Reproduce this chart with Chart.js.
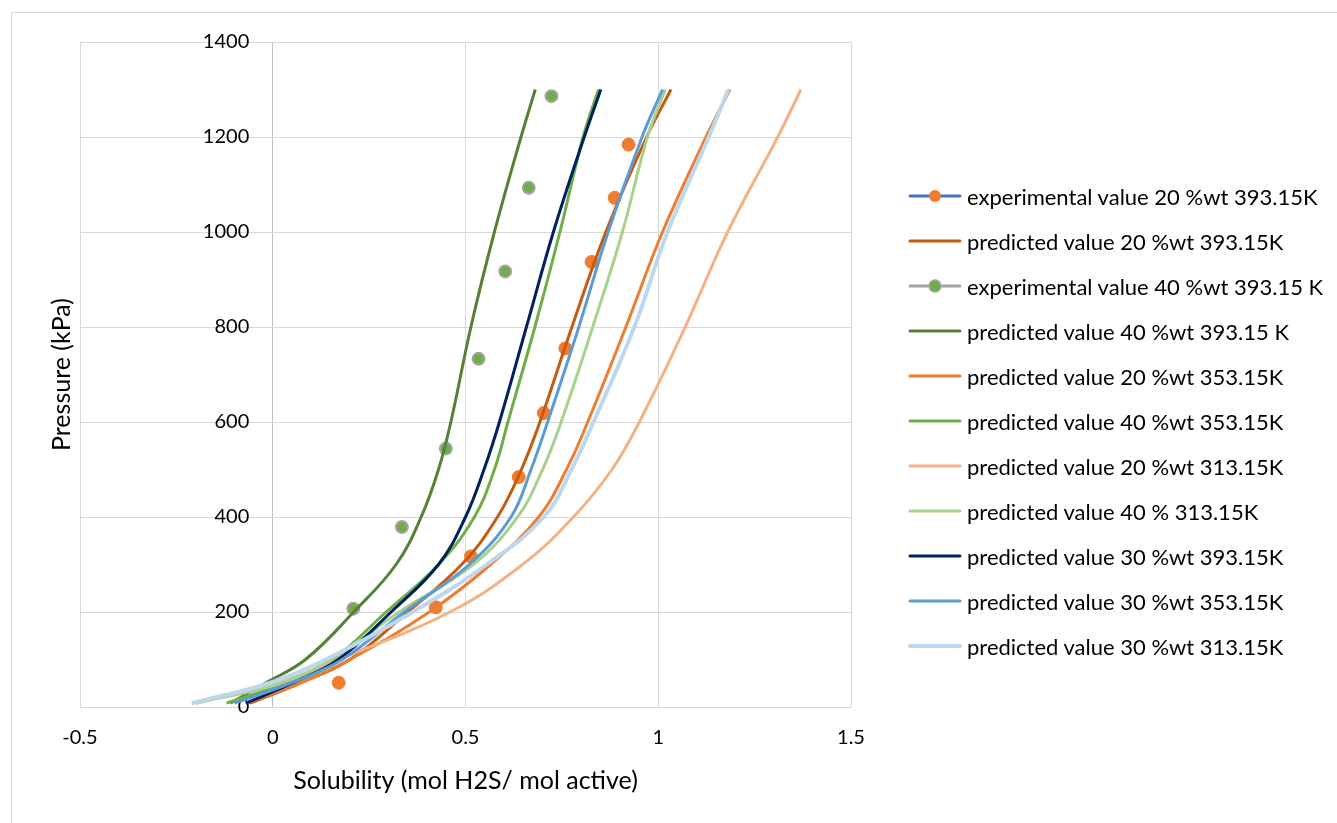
<!DOCTYPE html>
<html>
<head>
<meta charset="utf-8">
<script src="https://cdn.jsdelivr.net/npm/chart.js@4.4.1/dist/chart.umd.min.js"></script>
<style>
  body { margin: 0; background: #fff; overflow: hidden; }
  #wrap { position: relative; width: 1337px; height: 823px; }
  #frame { position: absolute; left: 11px; top: 12px; width: 1340px; height: 820px; border: 1px solid #D9D9D9; }
  #chartBox { position: absolute; left: 0; top: 0; width: 1337px; height: 823px; }
  #legend { position: absolute; left: 0; top: 0; font-family: Lato, sans-serif; font-size: 22px; color: #000; }
  .row { position: absolute; left: 908px; height: 26px; display: flex; align-items: center; white-space: nowrap; }
  .row canvas { margin-right: 5px; }
</style>
</head>
<body>
<div id="wrap">
  <div id="frame"></div>
  <div id="chartBox"><canvas id="chart"></canvas></div>
  <div id="legend"></div>
</div>
<script>
// pressure levels (kPa) the predicted curves are read at
const pressureLevels = [8, 50, 100, 200, 300, 400, 500, 600, 800, 1000, 1200, 1300];

// predicted solubility (mol H2S / mol active) at each pressure level
const pred20_393 = [-0.06, 0.07, 0.20, 0.35, 0.49, 0.583, 0.645, 0.693, 0.776, 0.864, 0.970, 1.033];
const pred40_393 = [-0.11, -0.02, 0.085, 0.21, 0.32, 0.385, 0.43, 0.462, 0.514, 0.575, 0.644, 0.681];
const pred20_353 = [-0.07, 0.07, 0.20, 0.406, 0.565, 0.69, 0.762, 0.817, 0.916, 1.011, 1.124, 1.186];
const pred40_353 = [-0.12, 0.03, 0.155, 0.294, 0.43, 0.523, 0.575, 0.61, 0.68, 0.745, 0.805, 0.845];
const pred20_313 = [-0.20, 0.01, 0.17, 0.46, 0.648, 0.78, 0.88, 0.951, 1.07, 1.18, 1.31, 1.37];
const pred40_313 = [-0.20, 0.02, 0.15, 0.328, 0.52, 0.635, 0.70, 0.748, 0.830, 0.907, 0.972, 1.018];
const pred30_393 = [-0.07, 0.05, 0.17, 0.307, 0.43, 0.50, 0.548, 0.588, 0.658, 0.728, 0.808, 0.851];
const pred30_353 = [-0.10, 0.045, 0.18, 0.341, 0.51, 0.618, 0.67, 0.713, 0.794, 0.870, 0.958, 1.011];
const pred30_313 = [-0.21, -0.01, 0.138, 0.363, 0.555, 0.703, 0.775, 0.832, 0.938, 1.024, 1.131, 1.182];

// experimental points
const exp20X = [0.171, 0.423, 0.514, 0.638, 0.703, 0.759, 0.827, 0.887, 0.923];
const exp20P = [51, 210, 317, 484, 619, 755, 937, 1072, 1184];
const exp40X = [0.209, 0.335, 0.449, 0.534, 0.603, 0.664, 0.723];
const exp40P = [207, 379, 544, 733, 917, 1093, 1286];

const seriesNames = [
  'experimental value 20 %wt 393.15K',
  'predicted value 20 %wt 393.15K',
  'experimental value 40 %wt 393.15 K',
  'predicted value 40 %wt 393.15 K',
  'predicted value 20 %wt 353.15K',
  'predicted value 40 %wt 353.15K',
  'predicted value 20 %wt 313.15K',
  'predicted value 40 % 313.15K',
  'predicted value 30 %wt 393.15K',
  'predicted value 30 %wt 353.15K',
  'predicted value 30 %wt 313.15K'
];

const xTicks = [-0.5, 0, 0.5, 1, 1.5];
const yTicks = [0, 200, 400, 600, 800, 1000, 1200, 1400];

function curve(xs) {
  return xs.map((x, i) => ({ x: x, y: pressureLevels[i] }));
}
function points(xs, ps) {
  return xs.map((x, i) => ({ x: x, y: ps[i] }));
}

const TICK_FONT = { family: 'Lato', size: 20 };
const TITLE_FONT = { family: 'Lato', size: 25 };

function lineSet(label, data, color, width) {
  return {
    label: label, data: data, showLine: true, borderColor: color, backgroundColor: color,
    borderWidth: width || 3, pointRadius: 0, tension: 0.4, fill: false
  };
}

const datasets = [
  { label: seriesNames[0], data: points(exp20X, exp20P), showLine: false,
    pointRadius: 6.5, pointBackgroundColor: '#ED7D31', pointBorderColor: '#ED7D31', pointBorderWidth: 1,
    legendLine: '#4472C4' },
  lineSet(seriesNames[1], curve(pred20_393), '#C55A11'),
  { label: seriesNames[2], data: points(exp40X, exp40P), showLine: false,
    pointRadius: 6, pointBackgroundColor: '#70AD47', pointBorderColor: '#A5A5A5', pointBorderWidth: 2,
    legendLine: '#A5A5A5' },
  lineSet(seriesNames[3], curve(pred40_393), '#548235'),
  lineSet(seriesNames[4], curve(pred20_353), '#ED7D31'),
  lineSet(seriesNames[5], curve(pred40_353), '#70AD47'),
  lineSet(seriesNames[6], curve(pred20_313), '#F4B183'),
  lineSet(seriesNames[7], curve(pred40_313), '#A9D18E'),
  lineSet(seriesNames[8], curve(pred30_393), '#002060'),
  lineSet(seriesNames[9], curve(pred30_353), '#5B9BD5'),
  lineSet(seriesNames[10], curve(pred30_313), '#BDD7EE', 4)
];
// later series sit on top, like the original
datasets.forEach((d, i) => { d.order = datasets.length - 1 - i; });

const chart = new Chart(document.getElementById('chart'), {
  type: 'scatter',
  data: { datasets: datasets },
  options: {
    responsive: true,
    maintainAspectRatio: false,
    animation: false,
    events: [],
    layout: { padding: { left: 0, top: 42, right: 486, bottom: 0 } },
    plugins: { legend: { display: false }, tooltip: { enabled: false } },
    scales: {
      x: {
        type: 'linear', min: -0.5, max: 1.5,
        afterBuildTicks: s => { s.ticks = xTicks.map(v => ({ value: v })); },
        afterFit: s => { s.height = 116; },
        ticks: { font: TICK_FONT, color: '#000', padding: 19, callback: v => String(v) },
        grid: { color: ctx => ctx.tick && ctx.tick.value === 0 ? '#BFBFBF' : '#D9D9D9', drawTicks: false },
        border: { display: false },
        title: { display: true, text: 'Solubility (mol H2S/ mol active)', font: TITLE_FONT, color: '#000', padding: { bottom: 27 } }
      },
      y: {
        type: 'linear', min: 0, max: 1400,
        afterBuildTicks: s => { s.ticks = yTicks.map(v => ({ value: v })); },
        afterFit: s => { s.width = 80; },
        ticks: { display: false },
        grid: { color: '#D9D9D9', drawTicks: false },
        border: { display: false },
        title: { display: true, text: 'Pressure (kPa)', font: TITLE_FONT, color: '#000', padding: { top: 47 } }
      },
      // value labels that sit beside the vertical axis line at x = 0
      y2: {
        type: 'linear', min: 0, max: 1400, axis: 'y',
        position: { x: -0.061 },
        afterBuildTicks: s => { s.ticks = yTicks.map(v => ({ value: v })); },
        ticks: { font: TICK_FONT, color: '#000', padding: 0, callback: v => String(v) },
        grid: { display: false, drawTicks: false },
        border: { display: false }
      }
    }
  }
});

// legend rows, built from the datasets
const legend = document.getElementById('legend');
datasets.forEach((d, i) => {
  const row = document.createElement('div');
  row.className = 'row';
  row.style.top = (196 + 45 * i - 13) + 'px';
  const c = document.createElement('canvas');
  c.width = 54; c.height = 16;
  const g = c.getContext('2d');
  g.strokeStyle = d.legendLine || d.borderColor;
  g.lineWidth = d.borderWidth || 3;
  g.lineCap = 'round';
  g.beginPath(); g.moveTo(2, 8); g.lineTo(52, 8); g.stroke();
  if (d.legendLine) {
    g.beginPath(); g.arc(27, 8, 6, 0, Math.PI * 2);
    g.fillStyle = d.pointBackgroundColor; g.fill();
    if (d.pointBorderWidth > 1) { g.lineWidth = 1.5; g.strokeStyle = d.pointBorderColor; g.stroke(); }
  }
  row.appendChild(c);
  const t = document.createElement('span');
  t.textContent = d.label;
  row.appendChild(t);
  legend.appendChild(row);
});
</script>
</body>
</html>
